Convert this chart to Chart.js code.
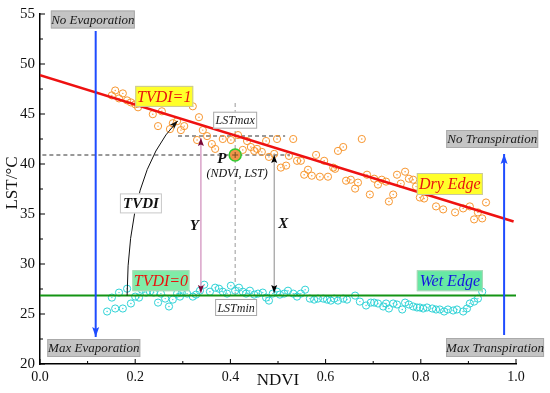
<!DOCTYPE html>
<html>
<head>
<meta charset="utf-8">
<script src="https://cdn.jsdelivr.net/npm/chart.js@4/dist/chart.umd.min.js"></script>
<style>
  html, body { margin: 0; padding: 0; background: #fff; }
  #wrap { width: 550px; height: 393px; }
</style>
</head>
<body>
<div id="wrap"><canvas id="tvdiChart"></canvas></div>
<script>
// dry edge samples (orange)
const dryNdvi = [0.151, 0.158, 0.166, 0.174, 0.183, 0.191, 0.200, 0.206, 0.237, 0.256, 0.248, 0.273, 0.279, 0.288,
    0.296, 0.303, 0.321, 0.334, 0.330, 0.342, 0.351, 0.361, 0.368, 0.384, 0.401, 0.416, 0.426, 0.435, 0.443, 0.450,
    0.456, 0.466, 0.475, 0.481, 0.492, 0.498, 0.506, 0.517, 0.523, 0.532, 0.540, 0.548, 0.555, 0.563, 0.571, 0.580,
    0.588, 0.597, 0.605, 0.616, 0.620, 0.626, 0.637, 0.643, 0.653, 0.662, 0.668, 0.676, 0.687, 0.693, 0.702, 0.710,
    0.718, 0.727, 0.733, 0.742, 0.750, 0.758, 0.767, 0.775, 0.784, 0.790, 0.798, 0.807, 0.832, 0.847, 0.872, 0.889,
    0.903, 0.920, 0.937, 0.912, 0.929];
const dryLst = [46.86, 47.35, 46.56, 47.06, 46.36, 46.16, 45.97, 45.67, 44.98, 45.27, 43.79, 43.49, 44.08, 44.28,
    43.39, 43.79, 45.77, 44.68, 42.40, 43.39, 42.79, 42.00, 41.51, 42.50, 42.40, 42.89, 41.41, 42.30, 41.70, 41.31,
    41.51, 41.21, 42.30, 40.71, 41.01, 42.50, 39.64, 39.84, 40.81, 42.50, 40.32, 40.32, 38.93, 39.43, 38.83, 40.91,
    38.73, 40.32, 38.73, 39.64, 39.52, 41.31, 41.70, 38.33, 38.43, 37.54, 38.14, 42.50, 38.93, 36.95, 38.53, 37.94,
    38.43, 38.24, 36.25, 36.95, 38.93, 38.04, 39.23, 38.53, 38.43, 37.74, 36.65, 36.55, 35.76, 35.46, 35.16, 35.56,
    35.76, 35.16, 36.15, 34.46, 34.56];

// wet edge samples (cyan)
const wetNdvi = [0.141, 0.151, 0.158, 0.166, 0.174, 0.183, 0.191, 0.200, 0.208, 0.214, 0.223, 0.231, 0.239, 0.248,
    0.254, 0.263, 0.271, 0.279, 0.288, 0.294, 0.298, 0.309, 0.321, 0.328, 0.336, 0.345, 0.357, 0.368, 0.376, 0.384,
    0.393, 0.401, 0.410, 0.418, 0.426, 0.433, 0.441, 0.450, 0.458, 0.468, 0.475, 0.481, 0.489, 0.498, 0.504, 0.513,
    0.521, 0.532, 0.540, 0.548, 0.557, 0.567, 0.576, 0.584, 0.595, 0.603, 0.611, 0.618, 0.626, 0.637, 0.645, 0.662,
    0.672, 0.685, 0.695, 0.702, 0.710, 0.721, 0.727, 0.733, 0.742, 0.750, 0.761, 0.767, 0.775, 0.784, 0.792, 0.798,
    0.805, 0.813, 0.824, 0.832, 0.840, 0.849, 0.857, 0.868, 0.876, 0.889, 0.897, 0.903, 0.912, 0.920, 0.929];
const wetLst = [25.25, 26.64, 25.55, 27.14, 25.55, 27.53, 26.05, 26.74, 26.64, 27.43, 27.14, 27.23, 27.14, 26.14,
    27.04, 26.54, 25.75, 26.44, 27.04, 26.74, 27.14, 27.04, 26.74, 26.94, 27.33, 27.93, 27.23, 27.63, 27.53, 27.23,
    27.04, 27.83, 27.33, 27.63, 27.23, 27.04, 27.33, 26.94, 27.04, 27.14, 26.64, 26.34, 27.04, 27.23, 26.94, 27.04,
    27.33, 27.04, 26.74, 27.04, 27.43, 26.54, 26.44, 26.54, 26.54, 26.44, 26.34, 26.54, 26.34, 26.54, 26.44, 26.84,
    26.24, 25.85, 26.14, 26.14, 26.05, 25.75, 26.05, 25.55, 26.05, 25.95, 25.45, 26.14, 25.95, 25.75, 25.65, 25.65,
    25.55, 25.65, 25.55, 25.45, 25.45, 25.25, 25.45, 25.35, 25.45, 25.25, 25.55, 26.05, 26.24, 26.54, 27.23];

// fitted edges
const dryEdgeNdvi = [0.0, 0.995];
const dryEdgeLst = [48.87, 34.25];
const wetEdgeNdvi = [0.0, 1.0];
const wetEdgeLst = [26.85, 26.85];

// example pixel P
const pointP = { ndvi: 0.41, lst: 40.9 };
const lstMaxAtP = 42.8;

// axis ticks
const xTicks = [0.0, 0.2, 0.4, 0.6, 0.8, 1.0];
const yTicks = [20, 25, 30, 35, 40, 45, 50, 55];

const toXY = (xs, ys) => xs.map((x, i) => ({ x: x, y: ys[i] }));

const serif = '"Liberation Serif", "DejaVu Serif", serif';

// boxed labels: [text, ndvi, lst, w, h, style]
const boxes = [
    ['No Evaporation', 0.111, 54.45, 84, 18, 'gray'],
    ['Max Evaporation', 0.113, 21.6, 93, 18, 'gray'],
    ['No Transpiration', 0.950, 42.5, 92, 18, 'gray'],
    ['Max Transpiration', 0.956, 21.65, 98, 19, 'gray'],
    ['TVDI=1', 0.261, 46.76, 58, 21, 'yellow'],
    ['Dry Edge', 0.861, 38.0, 66, 22, 'yellow'],
    ['TVDI=0', 0.254, 28.33, 57, 21, 'green'],
    ['Wet Edge', 0.861, 28.33, 66, 21, 'wetgreen'],
    ['LSTmax', 0.410, 44.38, 44, 17, 'white'],
    ['LSTmin', 0.412, 25.65, 42, 17, 'white'],
    ['TVDI', 0.212, 36.06, 42, 20, 'tvdi']
];
const boxStyles = {
    gray:     { fill: '#c4c4c4', stroke: '#aaaaaa', color: '#1a1a1a', font: 'italic 13px ' + serif },
    yellow:   { fill: '#ffff2a', stroke: '#c8c8a0', color: '#e8140f', font: 'italic 16px ' + serif },
    green:    { fill: '#80eca8', stroke: '#b0d8b8', color: '#e8140f', font: 'italic 16px ' + serif },
    wetgreen: { fill: '#66e8a4', stroke: '#b0d8b8', color: '#1414e0', font: 'italic 16px ' + serif },
    white:    { fill: '#ffffff', stroke: '#a8a8a8', color: '#1a1a1a', font: 'italic 12px ' + serif },
    tvdi:     { fill: '#ffffff', stroke: '#c8c8c8', color: '#111111', font: 'bold italic 15px ' + serif }
};

// free texts: [text, ndvi, lst, font]
const texts = [
    ['Y', 0.324, 33.78, 'bold italic 15px ' + serif],
    ['X', 0.511, 33.97, 'bold italic 15px ' + serif],
    ['P', 0.382, 40.52, 'bold italic 15px ' + serif],
    ['(NDVI, LST)', 0.414, 39.0, 'italic 12px ' + serif]
];

// arrows: [ndvi, fromLst, toLst, lineColor, headColor, width, headStart, headEnd]
const arrows = [
    [0.117, 53.3, 22.7, '#1f4cff', '#1f4cff', 2, false, true],
    [0.975, 22.9, 41.0, '#1f4cff', '#1f4cff', 2, false, true],
    [0.338, 42.6, 27.1, '#d9a3c9', '#7a0838', 1.5, true, true],
    [0.492, 40.9, 27.1, '#8a8a8a', '#000000', 1, true, true]
];

function arrowHead(ctx, x, y, ang, len, wid, color) {
    ctx.save();
    ctx.translate(x, y);
    ctx.rotate(ang);
    ctx.fillStyle = color;
    ctx.beginPath();
    ctx.moveTo(0, 0);
    ctx.lineTo(-len, -wid / 2);
    ctx.lineTo(-len * 0.8, 0);
    ctx.lineTo(-len, wid / 2);
    ctx.closePath();
    ctx.fill();
    ctx.restore();
}

const overlay = {
    id: 'overlay',
    beforeDatasetsDraw(chart) {
        const ctx = chart.ctx, xs = chart.scales.x, ys = chart.scales.y;
        const X = v => xs.getPixelForValue(v), Y = v => ys.getPixelForValue(v);
        ctx.save();
        // guide lines
        ctx.setLineDash([4, 3]);
        ctx.lineWidth = 1;
        ctx.strokeStyle = '#9a9a9a';
        ctx.beginPath();
        ctx.moveTo(X(pointP.ndvi), Y(46.1));
        ctx.lineTo(X(pointP.ndvi), Y(26.0));
        ctx.stroke();
        ctx.strokeStyle = '#333';
        ctx.beginPath();
        ctx.moveTo(X(0.29), Y(lstMaxAtP));
        ctx.lineTo(X(0.515), Y(lstMaxAtP));
        ctx.moveTo(X(0.005), Y(pointP.lst));
        ctx.lineTo(X(0.525), Y(pointP.lst));
        ctx.stroke();
        ctx.setLineDash([]);
        ctx.restore();
    },
    afterDatasetsDraw(chart) {
        const ctx = chart.ctx, xs = chart.scales.x, ys = chart.scales.y;
        const X = v => xs.getPixelForValue(v), Y = v => ys.getPixelForValue(v);
        const area = chart.chartArea;
        ctx.save();

        // inward ticks
        ctx.strokeStyle = '#000';
        ctx.lineWidth = 1;
        ctx.beginPath();
        for (let i = 0; i <= 10; i++) {
            const v = i / 10, len = i % 2 === 0 ? 5 : 3;
            ctx.moveTo(X(v), area.bottom);
            ctx.lineTo(X(v), area.bottom - len);
        }
        for (let i = 0; i <= 14; i++) {
            const v = 20 + i * 2.5, len = i % 2 === 0 ? 5 : 3;
            ctx.moveTo(area.left, Y(v));
            ctx.lineTo(area.left + len, Y(v));
        }
        ctx.stroke();

        // arrows
        arrows.forEach(a => {
            const [nd, y0, y1, lc, hc, w, hs, he] = a;
            const px = X(nd), p0 = Y(y0), p1 = Y(y1);
            ctx.strokeStyle = lc;
            ctx.lineWidth = w;
            ctx.beginPath();
            ctx.moveTo(px, p0);
            ctx.lineTo(px, p1);
            ctx.stroke();
            const dir = p1 > p0 ? Math.PI / 2 : -Math.PI / 2;
            const len = w >= 2 ? 10 : 8, wid = w >= 2 ? 7 : 6;
            if (he) arrowHead(ctx, px, p1, dir, len, wid, hc);
            if (hs) arrowHead(ctx, px, p0, dir + Math.PI, len, wid, hc);
        });

        // TVDI curved arrow
        const c0 = { x: X(0.183), y: Y(26.84) }, c1 = { x: X(0.185), y: Y(39.2) }, c2 = { x: X(0.289), y: Y(44.3) };
        ctx.strokeStyle = '#111';
        ctx.lineWidth = 1;
        ctx.beginPath();
        ctx.moveTo(c0.x, c0.y);
        ctx.quadraticCurveTo(c1.x, c1.y, c2.x, c2.y);
        ctx.stroke();
        arrowHead(ctx, c2.x, c2.y, Math.atan2(c2.y - c1.y, c2.x - c1.x), 8, 6, '#111');

        // point P
        const ppx = X(pointP.ndvi), ppy = Y(pointP.lst);
        ctx.beginPath();
        ctx.arc(ppx, ppy, 6, 0, Math.PI * 2);
        ctx.fillStyle = '#f0944a';
        ctx.fill();
        ctx.strokeStyle = '#2ecc2e';
        ctx.lineWidth = 1.5;
        ctx.stroke();
        ctx.strokeStyle = '#7a4a20';
        ctx.lineWidth = 1;
        ctx.beginPath();
        ctx.moveTo(ppx - 3, ppy); ctx.lineTo(ppx + 3, ppy);
        ctx.moveTo(ppx, ppy - 3); ctx.lineTo(ppx, ppy + 3);
        ctx.stroke();

        // boxed labels
        ctx.textAlign = 'center';
        ctx.textBaseline = 'middle';
        boxes.forEach(b => {
            const [t, nd, ls, w, h, st] = b;
            const s = boxStyles[st];
            const cx = X(nd), cy = Y(ls);
            ctx.fillStyle = s.fill;
            ctx.fillRect(cx - w / 2, cy - h / 2, w, h);
            ctx.strokeStyle = s.stroke;
            ctx.lineWidth = 1;
            ctx.strokeRect(cx - w / 2 + 0.5, cy - h / 2 + 0.5, w - 1, h - 1);
            ctx.fillStyle = s.color;
            ctx.font = s.font;
            ctx.fillText(t, cx, cy + 1);
        });

        // plain texts
        ctx.fillStyle = '#111';
        texts.forEach(t => {
            ctx.font = t[3];
            ctx.fillText(t[0], X(t[1]), Y(t[2]));
        });

        // axis titles
        ctx.font = '17px ' + serif;
        ctx.fillStyle = '#111';
        ctx.fillText('NDVI', X(0.5), 381);
        ctx.translate(13, 183);
        ctx.rotate(-Math.PI / 2);
        ctx.fillText('LST/°C', 0, 0);
        ctx.restore();
    }
};

new Chart(document.getElementById('tvdiChart').getContext('2d'), {
    type: 'scatter',
    data: {
        datasets: [
            {
                label: 'Dry Edge',
                type: 'line',
                data: toXY(dryEdgeNdvi, dryEdgeLst),
                borderColor: '#ee1111',
                borderWidth: 2.5,
                pointRadius: 0,
                fill: false,
                order: 1
            },
            {
                label: 'Wet Edge',
                type: 'line',
                data: toXY(wetEdgeNdvi, wetEdgeLst),
                borderColor: '#149414',
                borderWidth: 2,
                pointRadius: 0,
                fill: false,
                order: 1
            },
            {
                label: 'dry samples',
                data: toXY(dryNdvi, dryLst),
                pointStyle: 'circle',
                pointRadius: 3.6,
                borderColor: '#f7962f',
                backgroundColor: 'rgba(255,255,255,0)',
                borderWidth: 1,
                order: 2
            },
            {
                label: 'dry centres',
                data: toXY(dryNdvi, dryLst),
                pointRadius: 0.7,
                borderWidth: 0,
                backgroundColor: '#f7962f',
                order: 2
            },
            {
                label: 'wet samples',
                data: toXY(wetNdvi, wetLst),
                pointStyle: 'circle',
                pointRadius: 3.6,
                borderColor: '#2fd2d6',
                backgroundColor: 'rgba(255,255,255,0)',
                borderWidth: 1,
                order: 2
            },
            {
                label: 'wet centres',
                data: toXY(wetNdvi, wetLst),
                pointRadius: 0.7,
                borderWidth: 0,
                backgroundColor: '#2fd2d6',
                order: 2
            }
        ]
    },
    options: {
        responsive: true,
        maintainAspectRatio: false,
        animation: false,
        events: [],
        layout: { padding: { top: 11, right: 34, left: 0, bottom: 0 } },
        plugins: {
            legend: { display: false },
            tooltip: { enabled: false }
        },
        scales: {
            x: {
                type: 'linear',
                min: 0,
                max: 1.0,
                afterFit: s => { s.height = 29; },
                afterBuildTicks: s => { s.ticks = xTicks.map(v => ({ value: v })); },
                grid: { drawOnChartArea: false, drawTicks: false },
                border: { color: '#000', width: 1.5 },
                ticks: {
                    padding: 5,
                    color: '#111',
                    font: { family: serif, size: 14 },
                    callback: v => v.toFixed(1)
                }
            },
            y: {
                type: 'linear',
                min: 20,
                max: 55,
                afterFit: s => { s.width = 40; },
                afterBuildTicks: s => { s.ticks = yTicks.map(v => ({ value: v })); },
                grid: { drawOnChartArea: false, drawTicks: false },
                border: { color: '#000', width: 1.5 },
                ticks: {
                    padding: 5,
                    color: '#111',
                    font: { family: serif, size: 15 }
                }
            }
        }
    },
    plugins: [overlay]
});
</script>
</body>
</html>
